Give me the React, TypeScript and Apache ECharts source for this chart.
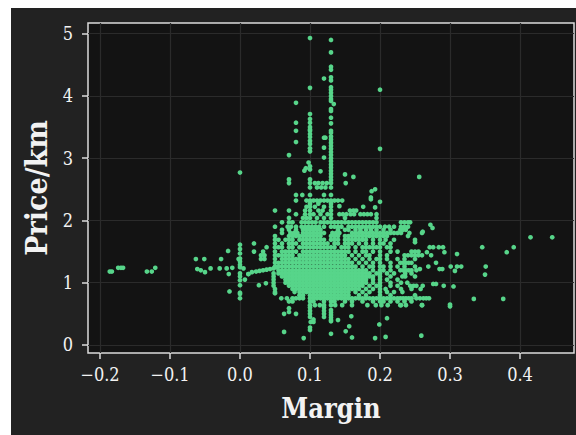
import React, { useEffect, useRef } from "react";
import * as echarts from "echarts";

const xTicks = [-0.2, -0.1, 0, 0.1, 0.2, 0.3, 0.4];
const yTicks = [0, 1, 2, 3, 4, 5];
const xTitle = "Margin";
const yTitle = "Price/km";

// isolated points: [margin, price/km]
const sparsePoints: number[][] = [
  [.10,4.93],[.13,4.90],[.13,4.70],[.13,4.47],[.13,4.42],[.13,4.30],[.13,4.25],[.12,4.28],[.10,4.13],[.20,4.10],
  [.13,4.14],[.13,4.10],[.13,4.05],[.13,4.00],[.13,3.95],[.13,3.92],[.134,3.87],[.08,3.89],[.13,3.79],[.13,3.76],
  [.10,3.71],[.13,3.65],[.10,3.63],[.10,3.57],[.08,3.57],[.13,3.56],[.10,3.50],[.10,3.46],[.10,3.44],[.08,3.44],
  [.13,3.44],[.13,3.41],[.10,3.39],[.10,3.34],[.10,3.28],[.10,3.23],[.12,3.33],[.122,3.33],[.08,3.26],
  [.13,3.35],[.13,3.30],[.13,3.25],[.13,3.20],[.13,3.15],[.13,3.10],[.13,3.05],[.13,3.00],[.13,2.95],[.13,2.90],[.13,2.85],[.13,2.80],[.13,2.75],[.13,2.70],[.13,2.65],
  [.12,3.17],[.10,3.16],[.10,3.11],[.20,3.15],[.07,3.05],[.12,3.01],[.098,2.93],[.10,2.87],[.10,2.82],[.094,2.84],[.092,2.80],
  [.115,2.79],[.15,2.74],[.162,2.70],[.07,2.66],[.10,2.66],[.0,2.77],[.256,2.70],
  [-.186,1.18],[-.183,1.18],[-.174,1.24],[-.17,1.24],[-.167,1.24],[-.133,1.18],[-.126,1.18],[-.121,1.24],
  [-.063,1.38],[-.051,1.38],[-.027,1.38],[-.017,1.51],[-.061,1.22],[-.056,1.20],[-.05,1.17],[-.042,1.23],[-.029,1.23],[-.019,1.23],[-.011,1.24],[-.016,1.14],[-.015,.86],
  [0,1.61],[0,1.54],[0,1.47],[0,1.39],[0,1.34],[0,1.29],[0,1.25],[0,1.15],[0,1.10],[0,1.04],[0,.96],[0,.84],[0,.82],[0,.75],[-.002,1.38],[.005,1.23],[.012,1.14],[.007,1.05],
  [.012,1.14],[.017,1.17],[.023,1.18],[.028,1.19],[.033,1.20],[.038,1.21],[.043,1.22],[.048,1.23],[.052,1.25],[.027,.96],[.037,.99],[.059,.75],[.05,.83],
  [.415,1.73],[.446,1.73],[.346,1.57],[.391,1.57],[.381,1.49],[.31,1.46],[.292,1.49],[.271,1.57],[.276,1.57],[.284,1.57],[.29,1.57],
  [.267,1.49],[.26,1.44],[.273,1.44],[.28,1.32],[.301,1.26],[.31,1.26],[.316,1.26],[.307,1.19],[.351,1.26],[.35,1.13],[.269,1.26],[.285,1.22],[.289,1.22],[.257,1.22],
  [.276,.98],[.28,.98],[.291,.95],[.305,.94],[.334,.74],[.376,.74],[.30,.65],[.30,.62],[.26,.64],[.25,1.65],[.261,1.82],[.272,1.93],[.275,1.88],
  [.063,.21],[.091,.11],[.10,.28],[.10,.24],[.101,.37],[.105,.41],[.105,.37],[.13,.18],[.14,.40],[.151,.22],[.156,.30],[.16,.12],[.159,.46],[.193,.11],[.199,.33],[.208,.13],[.21,.43],[.259,.15],
  [.063,.50],[.07,.53],[.07,.59],[.08,.50],[.13,.56],[.13,.52],[.13,.48],[.13,.44],[.13,.40],[.13,.38],[.10,.60],[.10,.55],[.10,.50],[.10,.45],[.12,.60],[.12,.55],[.12,.50],[.12,.45],
  [.188,2.47],[.193,2.50],[.187,2.37],[.187,2.34],[.20,2.30],[.176,2.22],[.193,2.21],[.142,2.23],
];

// dense band: price/km level and the margins (per mille) read along that level
const priceLevels = [2.6,2.53,2.41,2.32,2.27,2.22,2.16,2.1,2.04,1.97,1.9,1.85,1.8,1.75,1.69,1.63,1.57,1.5,1.44,1.38,1.32,1.26,1.2,1.15,1.1,1.05,1,.95,.9,.85,.8,.75,.7,.64];
const marginsPerMille: number[][] = [
  [70,100,107,112,118,124,130,151],
  [100,110,116,122,130],
  [80,89,100,120,130],
  [80,95,100,105,110,115,120,125,130,135,140,146],
  [100,112,130],
  [95,100,107,120,130],
  [50,70,93,100,112,118,130,157,162,166],
  [80,93,100,105,115,125,130,142,147,152,158,163,172,177,182,187,195],
  [70,90,95,100,110,120,130,150,195],
  [60,70,75,88,93,98,103,108,115,120,125,130,135,140,145,150,155,160,165,170,175,180,185,190,195,230,235,240,243],
  [50,68,73,80,88,93,98,103,108,113,120,130,135,140,145,155,160,165,170,175,180,185,190,195,200,207,213,220,230,235,240],
  [60,70,80,90,95,100,105,110,115,140,150,155,165,172,180,187,195,205,215,229,233,237],
  [60,72,77,82,90,95,100,105,110,115,120,132,137,142,160,165,170,175,180,185,190,195,200,205,210,215,220,225,230,242,260],
  [50,70,75,80,85,90,95,100,105,110,115,130,135,140,150,155,160,165,170,175,180,185,190,195,200,205,210,240],
  [50,55,65,70,75,85,90,95,100,105,110,115,120,130,135,140,150,155,160,165,170,175,180,190,200,208,220,250],
  [20,50,60,70,75,80,90,95,100,105,110,115,120,125,135,140,150,155,160,170,180,190,200,205,215],
  [38,50,55,60,70,75,85,90,95,100,105,110,115,120,125,130,135,145,150,155,165,175,180,185,190,195,200,210,215],
  [20,33,50,60,65,70,75,80,90,95,100,105,110,115,120,125,130,135,140,145,150,155,165,175,180,190,200,215,225,245,250,255],
  [30,35,50,55,60,65,70,75,85,90,95,100,105,110,115,120,125,130,135,140,145,150,160,170,180,185,200,210,235,240,245,250,255],
  [30,35,50,60,65,70,75,80,85,90,95,100,105,110,115,120,125,130,135,140,145,150,155,165,175,185,195,200,210,225,235,250],
  [50,55,60,65,70,75,80,85,90,95,100,105,110,115,120,125,130,135,140,145,150,155,160,170,180,190,200,215,229,233,237,241,245],
  [50,55,60,65,70,75,80,85,90,95,100,105,110,115,120,125,130,135,140,145,150,155,160,165,175,185,190,200,205,215,225,235,250],
  [55,60,65,70,75,80,85,90,95,100,105,110,115,120,125,130,135,140,145,150,155,160,165,170,175,180,190,200,205,215,229,233,237,241,245,252],
  [48,55,60,65,70,75,80,85,90,95,100,105,110,115,120,125,130,135,140,145,150,155,160,165,170,175,180,185,195,200,210,220,236,245],
  [48,60,65,70,75,80,85,90,95,100,105,110,115,120,125,130,135,140,145,150,155,160,165,170,175,180,185,190,200,215,232,236,250],
  [48,65,70,75,80,85,90,95,100,105,110,115,120,125,130,135,140,145,150,155,160,165,170,175,180,190,200,210,225],
  [48,65,70,75,80,85,90,95,100,105,110,115,120,125,130,135,140,145,150,155,160,165,170,175,180,190,200,215,230,239],
  [48,70,75,80,85,90,95,100,105,110,115,120,125,130,135,140,145,150,155,160,165,170,175,185,195,200,215,225,243,248,252,261],
  [50,75,80,85,90,95,100,105,110,115,120,125,130,135,140,145,150,155,160,165,170,180,190,200,208,230,245,258],
  [50,78,85,90,95,100,105,110,115,120,125,130,135,140,145,150,155,165,175,185,200,210,220,232],
  [85,90,100,105,110,115,120,125,130,135,140,145,150,155,170,180,200,215,250],
  [67,75,80,85,90,100,105,110,115,120,125,130,135,140,145,150,155,160,165,170,175,180,185,190,195,200,205,210,215,220,225,229,233,237,241,245,252,257,262,266,270],
  [70,75,100,105,120,130,135,150,160,175,190,200,205,215,225,235,245],
  [100,107,114,120,130,136,146,160,182,194,202,211,229,230,237,260],
];

const tickText = (v: number, digits: number) => v.toFixed(digits).replace("-", "\u2212");
const points = sparsePoints.concat(
  priceLevels.flatMap((p, i) => marginsPerMille[i].map((m) => [m / 1000, p]))
);

const serif = '"DejaVu Serif Condensed", "DejaVu Serif", serif';
const textColor = "#f2f2f2";

export default function App() {
  const ref = useRef<HTMLDivElement>(null);
  useEffect(() => {
    const chart = echarts.init(ref.current!, null, { renderer: "svg" });
    chart.setOption({
      animation: false,
      backgroundColor: "#222222",
      grid: { left: 77, top: 15, width: 486, height: 330, outerBoundsMode: "none", show: true, backgroundColor: "#131313", borderColor: "#dcdcdc", borderWidth: 1.5 },
      xAxis: {
        type: "value", min: -0.2171, max: 0.4771,
        name: xTitle, nameLocation: "middle", nameGap: 42,
        nameTextStyle: { color: textColor, fontFamily: serif, fontWeight: "bold", fontSize: 27 },
        axisLine: { show: false, onZero: false },
        axisTick: { show: true, length: 6, lineStyle: { color: "#dcdcdc", width: 1.5 }, customValues: xTicks },
        axisLabel: { color: textColor, fontFamily: serif, fontSize: 18, margin: 12, customValues: xTicks, formatter: (v: number) => tickText(v, 1) },
        splitLine: { show: true, lineStyle: { color: "#2b2b2b", width: 1.2 } },
      },
      yAxis: {
        type: "value", min: -0.129, max: 5.172,
        name: yTitle, nameLocation: "middle", nameGap: 33,
        nameTextStyle: { color: textColor, fontFamily: serif, fontWeight: "bold", fontSize: 30 },
        axisLine: { show: false, onZero: false },
        axisTick: { show: true, length: 6, lineStyle: { color: "#dcdcdc", width: 1.5 }, customValues: yTicks },
        axisLabel: { color: textColor, fontFamily: serif, fontSize: 18, margin: 15, customValues: yTicks, formatter: (v: number) => tickText(v, 0) },
        splitLine: { show: true, lineStyle: { color: "#2b2b2b", width: 1.2 } },
      },
      series: [{ type: "scatter", data: points, symbolSize: 4.7, itemStyle: { color: "#57d58a", opacity: 1 }, silent: true }],
    });
    return () => chart.dispose();
  }, []);
  return <div ref={ref} style={{ position: "absolute", left: 11, top: 8, width: 565, height: 427 }} />;
}
